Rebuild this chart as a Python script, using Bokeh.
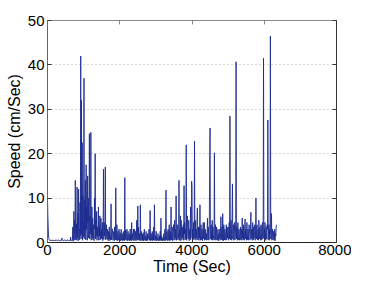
from bokeh.plotting import figure
from bokeh.models import LinearAxis, FixedTicker, ColumnDataSource, CustomLabelingPolicy
from bokeh.embed import file_html
from bokeh.resources import INLINE

# Speed samples, one every 10 s (each row = 200 s)
sample_sec = 10
speed_cm_s = [
    9.5, 6.0, 3.5, 1.2, 0.8, 0.6, 0.5, 0.4, 0.6, 0.5, 0.4, 0.5, 0.5, 0.4, 0.6, 0.5, 0.4, 0.5, 0.5, 0.4,
    0.5, 0.4, 0.4, 0.6, 0.6, 0.5, 0.5, 0.4, 0.4, 0.5, 0.5, 0.6, 0.6, 0.4, 0.4, 0.5, 0.5, 0.4, 0.4, 0.5,
    1.0, 0.6, 0.5, 0.4, 0.4, 0.5, 0.5, 0.6, 0.6, 0.4, 0.4, 0.5, 0.5, 0.4, 0.4, 0.6, 0.6, 0.5, 0.5, 0.4,
    0.4, 0.5, 0.6, 0.4, 1.2, 0.5, 0.5, 0.4, 0.4, 0.6, 3.5, 0.3, 1.2, 7.0, 0.5, 5.0, 2.0, 14.0, 0.6, 3.0,
    4.2, 0.5, 12.5, 1.0, 6.5, 0.4, 12.0, 2.5, 3.0, 0.6, 9.0, 1.5, 42.0, 0.8, 32.0, 2.0, 22.5, 0.5, 10.5, 1.2,
    5.0, 37.0, 0.8, 9.5, 2.5, 14.0, 0.6, 17.5, 3.0, 8.0, 0.5, 15.0, 4.5, 10.0, 1.0, 7.0, 24.5, 0.8, 6.0, 2.0,
    24.8, 0.5, 3.5, 8.0, 1.0, 5.5, 0.6, 4.0, 2.5, 0.4, 10.0, 3.0, 20.0, 0.8, 5.0, 1.5, 7.0, 0.5, 3.5, 1.2,
    2.0, 8.0, 0.5, 4.0, 1.5, 6.0, 0.6, 2.5, 5.5, 0.8, 3.0, 1.0, 4.5, 0.4, 2.0, 16.5, 0.7, 4.5, 1.5, 3.0,
    17.0, 0.6, 2.5, 4.0, 0.8, 1.0, 3.0, 0.5, 1.5, 2.5, 0.4, 3.5, 0.8, 1.5, 0.5, 2.5, 8.7, 0.6, 1.5, 3.0,
    3.0, 0.5, 0.8, 2.5, 1.2, 0.4, 3.5, 1.0, 0.6, 12.3, 2.0, 0.5, 4.0, 1.0, 0.4, 2.5, 1.0, 0.6, 3.0, 0.5,
    1.0, 2.2, 0.4, 0.8, 3.0, 0.5, 1.5, 2.0, 0.4, 0.6, 2.5, 0.5, 1.5, 0.4, 14.6, 0.6, 2.8, 1.0, 0.5, 2.0,
    3.0, 0.4, 1.0, 2.5, 0.5, 0.7, 2.0, 0.4, 1.2, 3.0, 0.5, 1.5, 0.4, 4.5, 0.8, 2.0, 0.5, 1.5, 3.0, 0.4,
    1.5, 3.0, 0.5, 0.8, 2.5, 0.4, 1.2, 5.0, 0.5, 2.0, 8.2, 0.6, 3.5, 1.0, 0.5, 2.0, 0.4, 8.5, 1.5, 0.5,
    2.5, 0.8, 0.4, 1.8, 0.5, 2.2, 0.4, 1.0, 3.0, 0.5, 0.6, 1.5, 0.4, 2.5, 0.5, 1.0, 0.4, 2.0, 0.6, 1.5,
    1.0, 3.0, 0.5, 0.8, 7.2, 0.4, 1.2, 2.0, 0.5, 0.8, 2.5, 0.4, 1.5, 0.6, 3.5, 0.5, 8.5, 2.0, 0.4, 1.5,
    0.8, 2.5, 0.4, 1.2, 0.5, 0.6, 2.0, 0.4, 1.0, 0.5, 1.5, 0.4, 2.5, 0.6, 5.5, 0.4, 1.5, 0.5, 0.8, 0.4,
    1.2, 0.5, 2.0, 0.4, 0.5, 3.0, 0.4, 1.5, 11.8, 0.6, 1.5, 2.5, 0.4, 0.8, 3.0, 0.5, 1.2, 4.0, 0.4, 2.0,
    2.5, 0.5, 8.0, 0.6, 1.0, 3.5, 0.4, 1.5, 2.5, 4.0, 0.5, 2.0, 5.0, 0.6, 3.0, 1.0, 10.5, 0.5, 1.5, 3.5,
    4.0, 0.6, 2.0, 1.0, 14.0, 0.5, 3.0, 1.5, 6.0, 0.4, 5.0, 2.5, 0.6, 3.5, 1.0, 2.5, 4.0, 0.5, 12.8, 2.0,
    4.5, 0.6, 3.0, 1.0, 22.0, 0.5, 2.0, 6.0, 4.0, 0.8, 1.5, 5.0, 0.4, 2.5, 3.0, 0.6, 8.0, 1.0, 3.0, 13.8,
    12.5, 0.5, 3.0, 1.0, 4.5, 0.6, 2.0, 22.8, 0.8, 5.0, 1.5, 0.5, 3.0, 1.0, 6.0, 7.8, 0.6, 2.0, 3.5, 0.5,
    3.5, 1.0, 8.5, 0.5, 2.0, 4.0, 0.6, 1.5, 3.0, 0.4, 2.5, 4.5, 0.8, 1.0, 4.5, 0.5, 1.0, 3.0, 0.6, 2.0,
    2.0, 0.5, 3.0, 5.5, 0.6, 3.5, 1.5, 0.5, 4.0, 19.5, 25.8, 0.8, 3.0, 4.0, 0.6, 2.0, 5.0, 0.5, 3.5, 1.0,
    1.5, 0.6, 20.2, 2.5, 0.5, 4.0, 1.0, 0.6, 3.5, 2.0, 0.5, 1.5, 3.0, 0.4, 2.0, 0.8, 1.5, 3.0, 0.5, 2.0,
    5.8, 0.6, 2.0, 3.5, 0.5, 6.5, 1.5, 0.4, 4.0, 2.0, 0.6, 3.0, 1.0, 0.5, 2.5, 4.0, 0.6, 3.5, 1.0, 2.5,
    3.5, 0.5, 1.5, 4.5, 0.8, 28.5, 2.0, 0.6, 5.0, 3.0, 0.5, 6.5, 13.2, 0.8, 3.0, 4.0, 0.5, 2.5, 4.5, 0.6,
    1.5, 5.0, 40.7, 0.8, 3.5, 2.0, 0.5, 4.5, 1.0, 0.6, 3.0, 2.0, 0.5, 1.5, 3.5, 0.6, 2.0, 3.0, 0.5, 5.5,
    1.0, 2.5, 0.6, 4.0, 1.5, 0.5, 3.0, 5.3, 0.8, 3.0, 2.0, 0.5, 4.5, 1.5, 0.6, 3.0, 2.5, 0.5, 4.0, 3.0,
    2.0, 0.6, 4.0, 6.8, 0.8, 3.0, 1.5, 0.5, 4.5, 2.5, 0.6, 3.5, 1.0, 3.5, 4.0, 0.5, 2.5, 10.0, 0.8, 2.0,
    4.0, 0.6, 1.5, 3.0, 0.5, 5.0, 2.0, 0.8, 3.5, 1.5, 0.5, 4.0, 2.5, 0.6, 3.0, 4.5, 0.8, 2.5, 41.5, 1.0,
    3.0, 0.6, 4.5, 2.0, 0.5, 3.5, 1.5, 0.8, 4.0, 3.0, 27.6, 0.6, 3.0, 4.0, 0.5, 3.0, 2.0, 46.5, 0.8, 2.5,
    6.5, 0.5, 2.0, 3.0, 0.6, 1.5, 2.5, 0.5, 1.0, 3.0, 0.4, 2.0, 1.5, 3.5, 4.0,
]
time_s = [sample_sec * i for i in range(len(speed_cm_s))]

x_ticks = [0, 2000, 4000, 6000, 8000]
y_ticks = [0, 10, 20, 30, 40, 50]

FONT = "Liberation Sans"

p = figure(frame_width=289, frame_height=222, output_backend="svg", toolbar_location=None,
           x_range=(0, 8000), y_range=(0, 50),
           min_border_left=47, min_border_right=15, min_border_top=20, min_border_bottom=38)

src = ColumnDataSource(dict(t=time_s, v=speed_cm_s))
p.line("t", "v", source=src, line_color="#1c2b8e", line_width=0.9)

p.xgrid.visible = False
p.ygrid.ticker = FixedTicker(ticks=[10, 20, 30, 40])
p.ygrid.grid_line_color = "#b0b0b0"
p.ygrid.grid_line_dash = "1 3"
p.ygrid.grid_line_width = 1

for ax, ticks in ((p.xaxis[0], x_ticks), (p.yaxis[0], y_ticks)):
    ax.ticker = FixedTicker(ticks=ticks)
    ax.major_tick_in = 4
    ax.major_tick_out = 0
    ax.minor_tick_in = 0
    ax.minor_tick_out = 0
    ax.major_label_text_font = FONT
    ax.major_label_text_font_size = "15px"
    ax.major_label_text_color = "black"
    ax.axis_label_text_font = FONT
    ax.axis_label_text_font_size = "16px"
    ax.axis_label_text_font_style = "normal"
    ax.axis_label_text_color = "black"
    ax.major_tick_line_color = "#333333"

p.xaxis.axis_line_color = "#222222"
p.yaxis.axis_line_color = "#666666"
p.xaxis.axis_label = "Time (Sec)"
p.yaxis.axis_label = "Speed (cm/Sec)"
p.xaxis.major_label_standoff = 2
p.xaxis.axis_label_standoff = 0
p.yaxis.major_label_standoff = 3
p.yaxis.axis_label_standoff = 2

hide_all = CustomLabelingPolicy(code="""
    for (const i of indices)
        indices.unset(i)
    return indices
""")
for loc, ticks, col in (("above", x_ticks, "#888888"), ("right", y_ticks, "#333333")):
    ax = LinearAxis(ticker=FixedTicker(ticks=ticks), major_label_policy=hide_all,
                    major_tick_in=4, major_tick_out=0, minor_tick_in=0, minor_tick_out=0,
                    major_label_standoff=0, axis_line_color=col,
                    major_tick_line_color=col)
    p.add_layout(ax, loc)

p.outline_line_color = None

open("out.html", "w").write(file_html(p, INLINE))
